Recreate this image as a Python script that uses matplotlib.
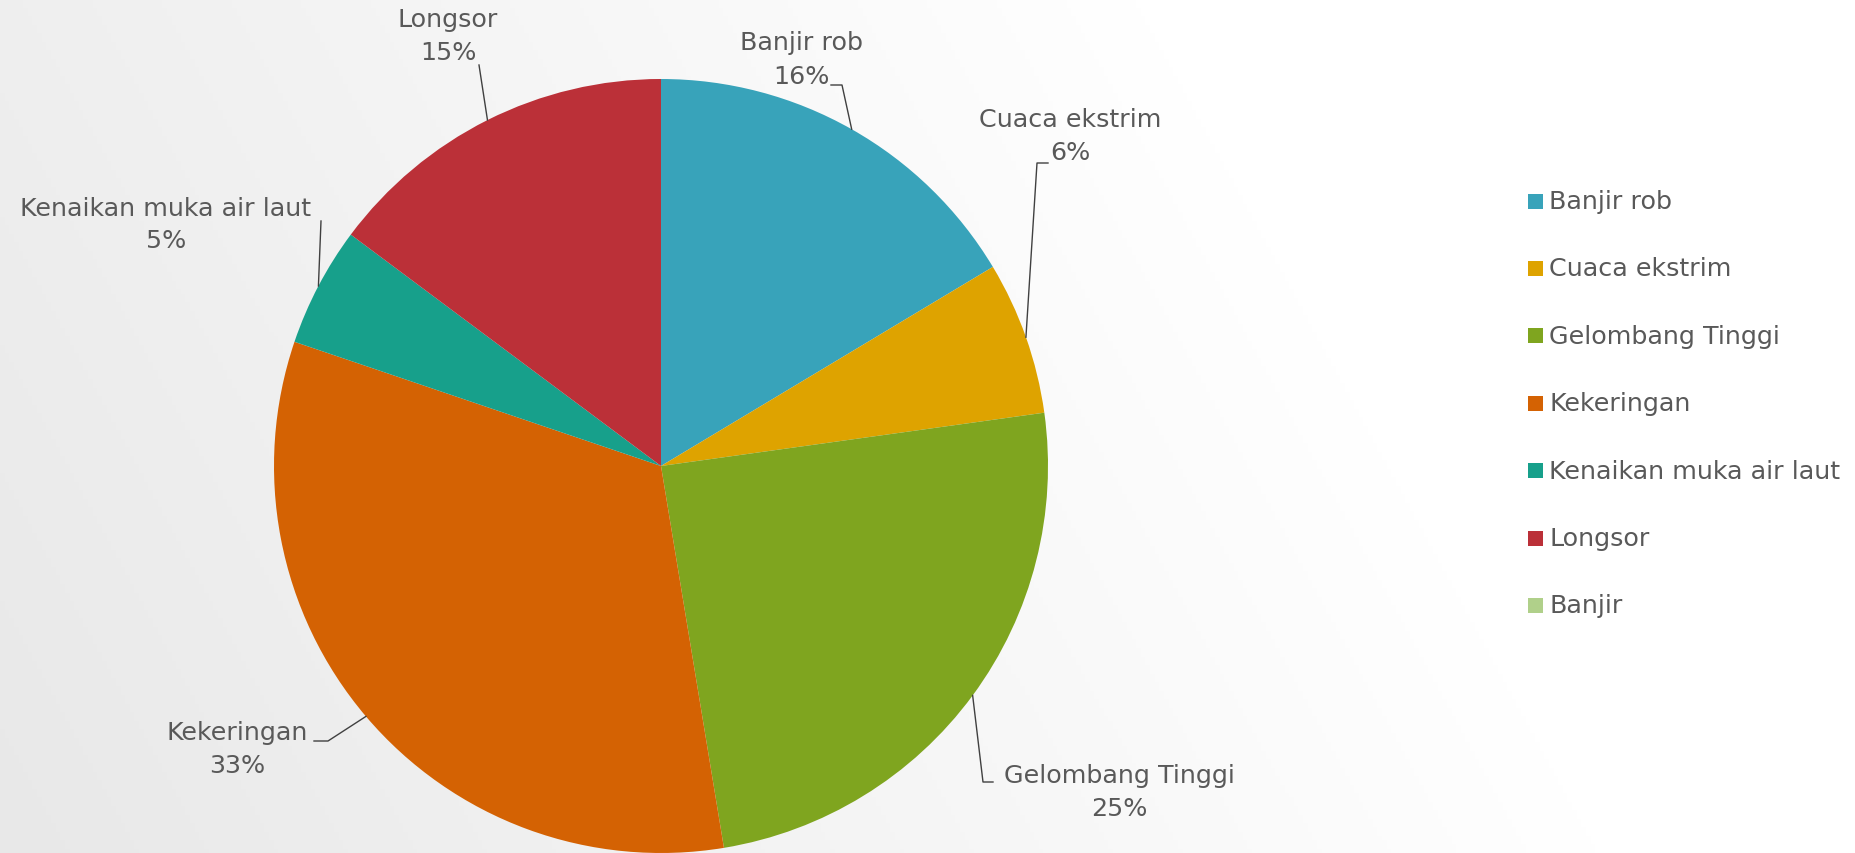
import numpy as np
import matplotlib
matplotlib.use("Agg")
import matplotlib.pyplot as plt
import matplotlib.patches as patches

# data (share in percent)
kategori = ["Banjir rob", "Cuaca ekstrim", "Gelombang Tinggi", "Kekeringan",
            "Kenaikan muka air laut", "Longsor", "Banjir"]
persen = [16.4, 6.4, 24.6, 32.8, 5.0, 14.8, 0.0]
warna = ["#38A3BA", "#DEA300", "#7FA51F", "#D46203", "#17A08B", "#BB3038", "#B0D08A"]

W, H = 1855, 854
TXT = "#595959"
FS = 18.3

fig = plt.figure(figsize=(W / 100, H / 100), dpi=100)

# background gradient (grey left -> white right)
bg = fig.add_axes([0, 0, 1, 1])
xx, yy = np.meshgrid(np.linspace(0, 1, 400), np.linspace(0, 1, 200))
t = np.clip((xx * 0.8 + (1 - yy) * 0.2) * 1.45, 0, 1)
g = 0.91 + (1 - 0.91) * t
bg.imshow(np.dstack([g, g, g]), extent=[0, 1, 0, 1], aspect="auto", origin="upper")
bg.axis("off")

ax = fig.add_axes([0, 0, 1, 1], facecolor="none")
cx, cy, r = 661, H - 467, 387
wedges, _ = ax.pie(persen, colors=warna, startangle=90, counterclock=False,
                   center=(cx, cy), radius=r, frame=True,
                   wedgeprops=dict(linewidth=0))
ax.set_xlim(0, W)
ax.set_ylim(0, H)
ax.set_aspect("equal")
ax.axis("off")

# label positions (pixel, from top): x, name line y, pct line y
pos_label = {
    "Banjir rob": (801, 43, 77),
    "Cuaca ekstrim": (1070, 120, 153),
    "Gelombang Tinggi": (1119, 776, 809),
    "Kekeringan": (237, 733, 766),
    "Kenaikan muka air laut": (166, 209, 241),
    "Longsor": (448, 20, 53),
}
# leader polylines from the label side (pixel, from top)
leader = {
    "Banjir rob": [(831, 86), (842, 86)],
    "Cuaca ekstrim": [(1048, 164), (1037, 164)],
    "Gelombang Tinggi": [(993, 783), (983, 783)],
    "Kekeringan": [(314, 742), (328, 742)],
    "Kenaikan muka air laut": [(321, 222)],
    "Longsor": [(479, 66)],
}

for w, nama, p in zip(wedges, kategori, persen):
    if p == 0:
        continue
    x, y1, y2 = pos_label[nama]
    ax.text(x, H - y1, nama, ha="center", va="center", fontsize=FS, color=TXT)
    ax.text(x, H - y2, "%d%%" % round(p), ha="center", va="center",
            fontsize=FS, color=TXT)
    mid = np.deg2rad((w.theta1 + w.theta2) / 2)
    ex = cx + r * np.cos(mid)
    ey = cy + r * np.sin(mid)
    pts = [(px, H - py) for px, py in leader[nama]] + [(ex, ey)]
    ax.plot([q[0] for q in pts], [q[1] for q in pts], color="#404040", lw=1.0)

# legend
for i, (nama, c) in enumerate(zip(kategori, warna)):
    yc = H - (202 + i * 67.4)
    ax.add_patch(patches.Rectangle((1528, yc - 7.5), 15, 15, color=c, lw=0))
    ax.text(1549, yc, nama, ha="left", va="center", fontsize=FS, color=TXT)

plt.savefig("out.png", dpi=100)
